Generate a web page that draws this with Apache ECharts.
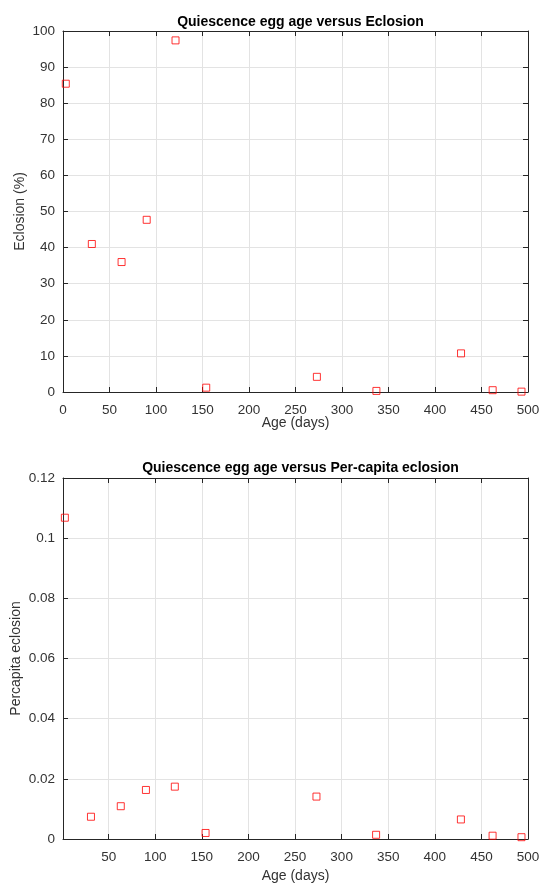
<!DOCTYPE html>
<html>
<head>
<meta charset="utf-8">
<script src="https://cdn.jsdelivr.net/npm/echarts@6/dist/echarts.min.js"></script>
<style>
html,body{margin:0;padding:0;background:#fff;}
#main{width:540px;height:884px;}
</style>
</head>
<body>
<div id="main"></div>
<script>
// ---- data ----
var ageDays = [3, 31, 63, 90, 121, 154, 273, 337, 428, 462, 493];
var eclosionPct = [85.4, 41.0, 36.0, 47.7, 97.4, 1.2, 4.2, 0.3, 10.7, 0.5, 0.1];
var percapitaEclosion = [0.1068, 0.0074, 0.0109, 0.0163, 0.0174, 0.0020, 0.0141, 0.0014, 0.0065, 0.0011, 0.0006];
var xTicksBottom = [50, 100, 150, 200, 250, 300, 350, 400, 450, 500];
var titles = ['Quiescence egg age versus Eclosion', 'Quiescence egg age versus Per-capita eclosion'];

var FONT = "'Liberation Sans', Arial, Helvetica, sans-serif";
var AX = '#262626';
var LBL = '#333333';
var GRIDC = '#e3e3e3';

function pairs(xs, ys) { return xs.map(function (x, i) { return [x, ys[i]]; }); }

function mainX(gi, min, custom) {
  var o = {
    type: 'value', gridIndex: gi, position: 'bottom', min: min, max: 500,
    name: 'Age (days)', nameLocation: 'middle', nameGap: gi === 0 ? 24 : 30,
    nameMoveOverlap: false,
    nameTextStyle: { color: LBL, fontSize: 14, fontFamily: FONT },
    axisLine: { show: true, onZero: false, lineStyle: { color: AX, width: 1 } },
    axisTick: { show: true, inside: true, length: 5, lineStyle: { color: AX } },
    axisLabel: { color: LBL, fontSize: 13.5, fontFamily: FONT, margin: 11 },
    splitLine: { show: true, lineStyle: { color: GRIDC, width: 1 } }
  };
  if (custom) {
    o.axisTick.customValues = custom;
    o.axisLabel.customValues = custom;
  } else {
    o.interval = 50;
  }
  return o;
}
function mirrorX(gi, min, custom) {
  var o = {
    type: 'value', gridIndex: gi, position: 'top', min: min, max: 500,
    axisLine: { show: true, onZero: false, lineStyle: { color: AX, width: 1 } },
    axisTick: { show: true, inside: true, length: 5, lineStyle: { color: AX } },
    axisLabel: { show: false },
    splitLine: { show: false }
  };
  if (custom) { o.axisTick.customValues = custom; o.axisLabel.customValues = custom; }
  else { o.interval = 50; }
  return o;
}
function mainY(gi, max, interval, name, gap) {
  return {
    type: 'value', gridIndex: gi, position: 'left', min: 0, max: max, interval: interval,
    name: name, nameLocation: 'middle', nameGap: gap, nameRotate: 90,
    nameMoveOverlap: false,
    nameTextStyle: { color: LBL, fontSize: 14, fontFamily: FONT },
    axisLine: { show: true, onZero: false, lineStyle: { color: AX, width: 1 } },
    axisTick: { show: true, inside: true, length: 5, lineStyle: { color: AX } },
    axisLabel: { color: LBL, fontSize: 13.5, fontFamily: FONT, margin: 8 },
    splitLine: { show: true, lineStyle: { color: GRIDC, width: 1 } }
  };
}
function mirrorY(gi, max, interval) {
  return {
    type: 'value', gridIndex: gi, position: 'right', min: 0, max: max, interval: interval,
    axisLine: { show: true, onZero: false, lineStyle: { color: AX, width: 1 } },
    axisTick: { show: true, inside: true, length: 5, lineStyle: { color: AX } },
    axisLabel: { show: false },
    splitLine: { show: false }
  };
}

var markerStyle = { color: 'rgba(255,255,255,0)', borderColor: '#ff0000', borderWidth: 1 };

var option = {
  backgroundColor: '#ffffff',
  animation: false,
  title: [
    { text: titles[0], left: 295.5, top: 10, textAlign: 'center',
      textStyle: { color: '#000', fontSize: 14, fontWeight: 'bold', fontFamily: FONT } },
    { text: titles[1], left: 295.5, top: 456, textAlign: 'center',
      textStyle: { color: '#000', fontSize: 14, fontWeight: 'bold', fontFamily: FONT } }
  ],
  grid: [
    { left: 63, right: 12, top: 31, height: 361, containLabel: false, outerBoundsMode: 'none' },
    { left: 63, right: 12, top: 478, height: 361, containLabel: false, outerBoundsMode: 'none' }
  ],
  xAxis: [
    mainX(0, 0, null),
    mirrorX(0, 0, null),
    mainX(1, 1, xTicksBottom),
    mirrorX(1, 1, xTicksBottom)
  ],
  yAxis: [
    mainY(0, 100, 10, 'Eclosion (%)', 36),
    mirrorY(0, 100, 10),
    mainY(1, 0.12, 0.02, 'Percapita eclosion', 40),
    mirrorY(1, 0.12, 0.02)
  ],
  series: [
    { type: 'scatter', xAxisIndex: 0, yAxisIndex: 0, symbol: 'rect', symbolSize: 7,
      itemStyle: markerStyle, data: pairs(ageDays, eclosionPct), clip: false },
    { type: 'scatter', xAxisIndex: 2, yAxisIndex: 2, symbol: 'rect', symbolSize: 7,
      itemStyle: markerStyle, data: pairs(ageDays, percapitaEclosion), clip: false }
  ]
};

var chart = echarts.init(document.getElementById('main'), null, { renderer: 'canvas' });
chart.setOption(option);
</script>
</body>
</html>
